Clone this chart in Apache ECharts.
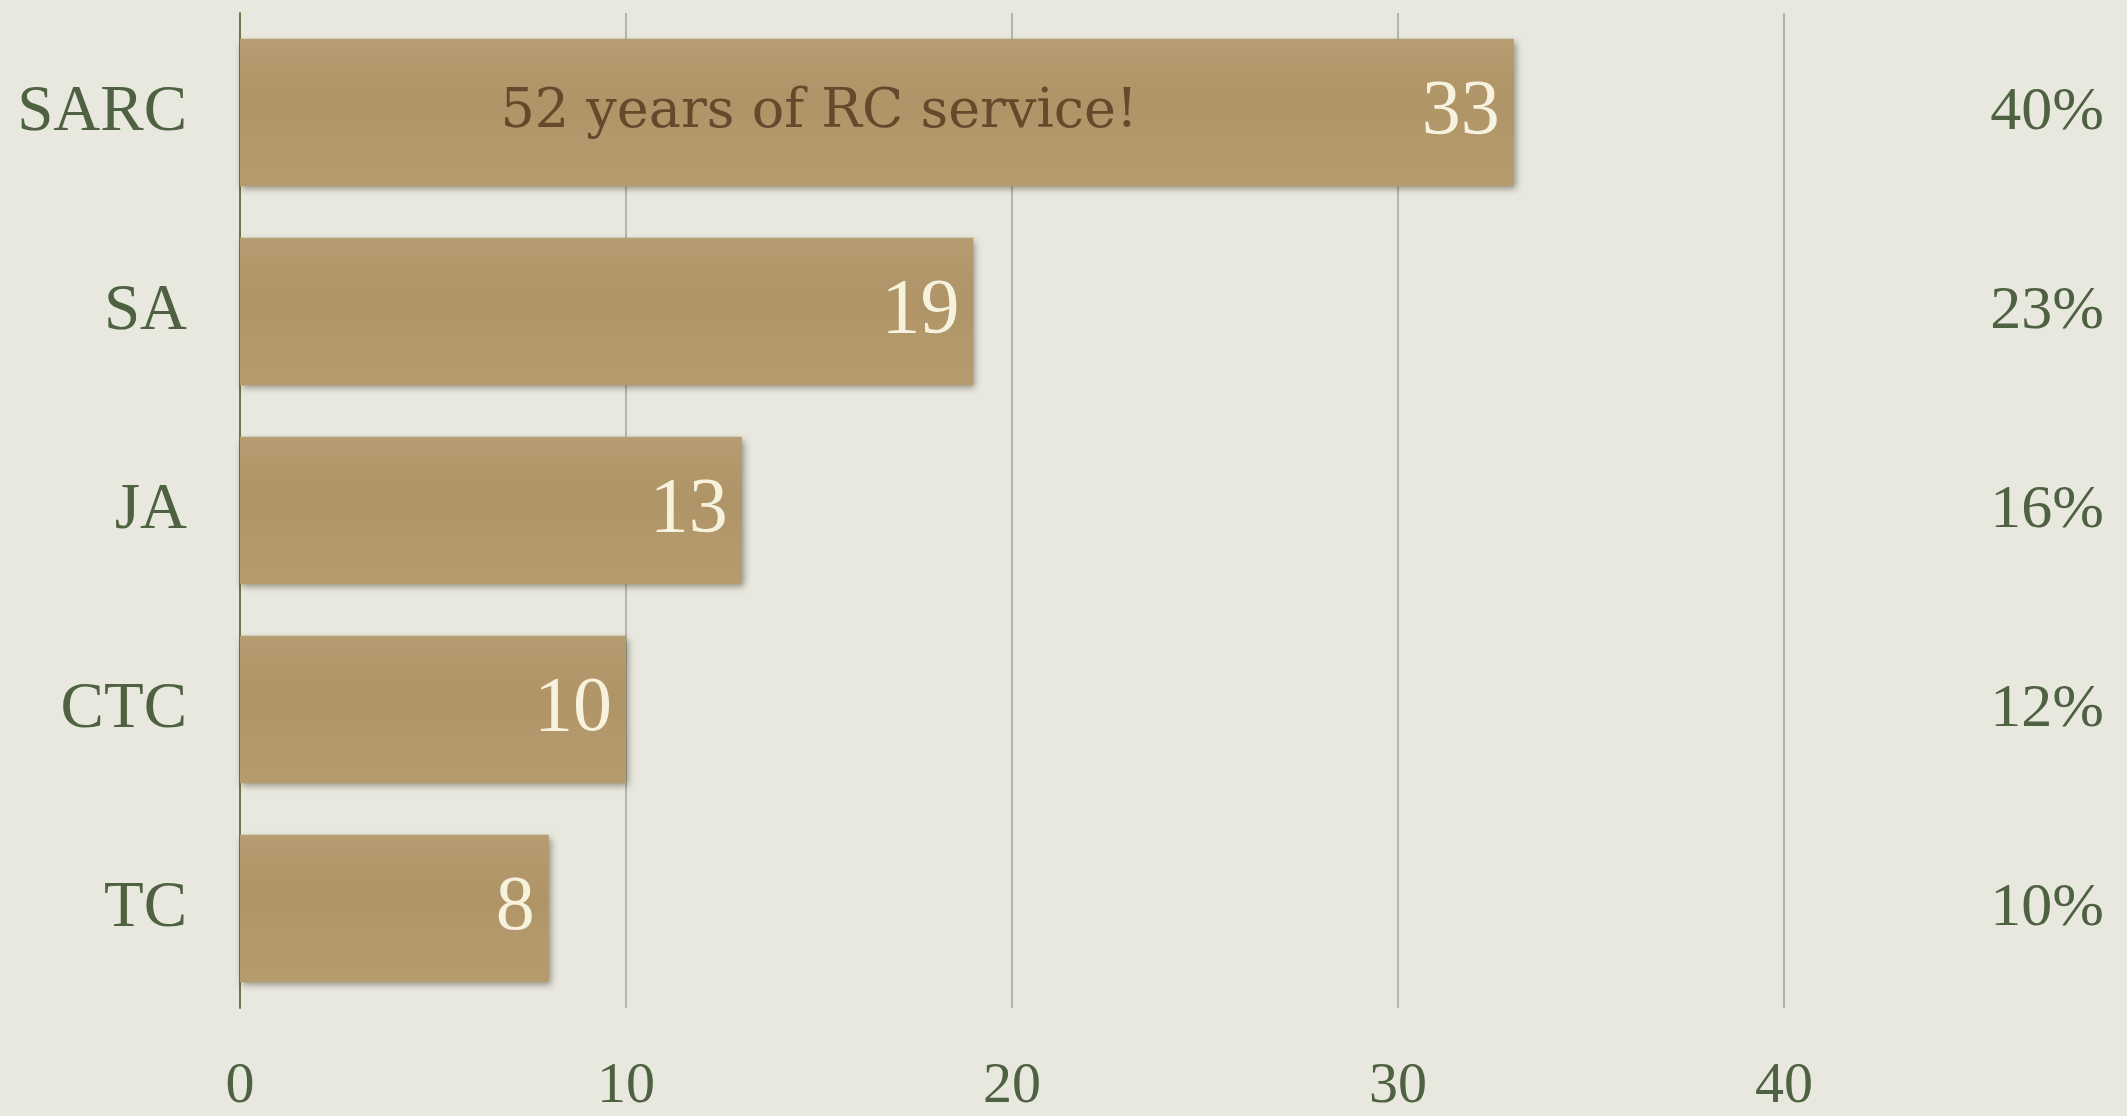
<!DOCTYPE html>
<html>
<head>
<meta charset="utf-8">
<title>Service years</title>
<script src="https://cdn.jsdelivr.net/npm/echarts@6/dist/echarts.min.js"></script>
<style>
  html, body { margin: 0; padding: 0; background: #e8e8df; }
  #chart { width: 2127px; height: 1116px; }
</style>
</head>
<body>
<div id="chart"></div>
<script>
// Categories, top to bottom
const categories = ['SARC', 'SA', 'JA', 'CTC', 'TC'];
// Years per role
const values = [33, 19, 13, 10, 8];
// Share of the total, shown on the right
const shareLabels = ['40%', '23%', '16%', '12%', '10%'];
// Value axis ticks
const xTicks = [0, 10, 20, 30, 40];
// Note written across the top bar
const noteText = '52 years of RC service!';
const noteAt = [15, 'SARC'];

const green = '#4e6140';
const serif = '"Liberation Serif", "Times New Roman", serif';

const chart = echarts.init(document.getElementById('chart'), null, { renderer: 'canvas' });

chart.setOption({
  backgroundColor: '#e8e8df',
  animation: false,
  grid: { left: 240, right: 343, top: 13, bottom: 106, containLabel: false },
  xAxis: {
    type: 'value',
    min: xTicks[0],
    max: xTicks[xTicks.length - 1],
    interval: xTicks[1] - xTicks[0],
    axisLine: { show: false },
    axisTick: { show: false },
    splitLine: { show: true, lineStyle: { color: '#a3a39e', width: 1.5 } },
    axisLabel: { color: green, fontFamily: serif, fontSize: 58, margin: 50 }
  },
  yAxis: [
    {
      type: 'category',
      data: categories,
      inverse: true,
      axisLine: { show: true, lineStyle: { color: '#6f7446', width: 2 } },
      axisTick: { show: false },
      axisLabel: { color: green, fontFamily: serif, fontSize: 65, margin: 53 }
    },
    {
      type: 'category',
      data: shareLabels,
      inverse: true,
      position: 'right',
      axisLine: { show: false },
      axisTick: { show: false },
      axisLabel: { color: green, fontFamily: serif, fontSize: 62, margin: 320, align: 'right' }
    }
  ],
  series: [
    {
      type: 'bar',
      data: values,
      barCategoryGap: '26%',
      itemStyle: {
        color: {
          type: 'linear', x: 0, y: 0, x2: 0, y2: 1,
          colorStops: [
            { offset: 0, color: '#b69e72' },
            { offset: 0.25, color: '#b1976a' },
            { offset: 0.45, color: '#ae9466' },
            { offset: 0.65, color: '#b2986b' },
            { offset: 1, color: '#b59c6f' }
          ]
        },
        shadowColor: 'rgba(40, 30, 10, 0.45)',
        shadowBlur: 7,
        shadowOffsetX: 2,
        shadowOffsetY: 3
      },
      label: {
        show: true,
        position: 'insideRight',
        distance: 14,
        color: '#f7f2de',
        fontFamily: serif,
        fontSize: 78
      }
    },
    {
      type: 'scatter',
      data: [noteAt],
      symbolSize: 1,
      itemStyle: { color: 'transparent' },
      z: 5,
      label: {
        show: true,
        position: 'inside',
        formatter: noteText,
        color: '#55351d',
        fontFamily: '"DejaVu Serif", Georgia, serif',
        fontSize: 54
      }
    }
  ]
});
</script>
</body>
</html>
